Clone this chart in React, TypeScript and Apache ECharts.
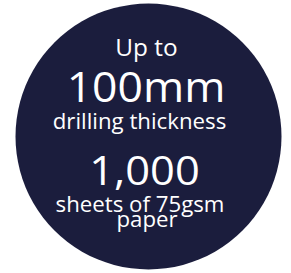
import React, { useEffect, useRef } from "react";
import * as echarts from "echarts";

// Text content of the badge
const lines = ["Up to", "100mm", "drilling thickness", "1,000", "sheets of 75gsm", "paper"];

// Layout (not data): font size, horizontal centre and baseline of each line
const fontSizes = [23, 42, 21, 41, 21, 21];
const centersX = [146.5, 146, 139.5, 144.5, 140, 147];
const baselines = [55.7, 102.5, 129.3, 184.5, 211.7, 227];

const CIRCLE_COLOR = "#1b1d3d";
const STRETCH = 1.06;

export default function App() {
  const ref = useRef<HTMLDivElement>(null);
  useEffect(() => {
    if (!ref.current) return;
    const chart = echarts.init(ref.current, null, { renderer: "svg" });
    const texts = lines.map((t, i) => ({
      type: "text",
      x: centersX[i],
      y: baselines[i] - 0.388 * fontSizes[i],
      scaleX: STRETCH,
      style: {
        text: t,
        x: 0,
        y: 0,
        fill: "#ffffff",
        fontFamily: "Open Sans",
        fontSize: fontSizes[i],
        lineHeight: Math.round(fontSizes[i] * 0.75),
        textAlign: "center",
        textVerticalAlign: "middle",
        verticalAlign: "middle",
      },
    }));
    chart.setOption({
      animation: false,
      backgroundColor: "#ffffff",
      graphic: [
        {
          type: "circle",
          shape: { cx: 148.5, cy: 136.5, r: 133 },
          style: { fill: CIRCLE_COLOR },
        },
        ...texts,
      ],
    });
    return () => chart.dispose();
  }, []);
  return (
    <div
      ref={ref}
      style={{ position: "fixed", left: 0, top: 0, width: 291, height: 273 }}
    />
  );
}
